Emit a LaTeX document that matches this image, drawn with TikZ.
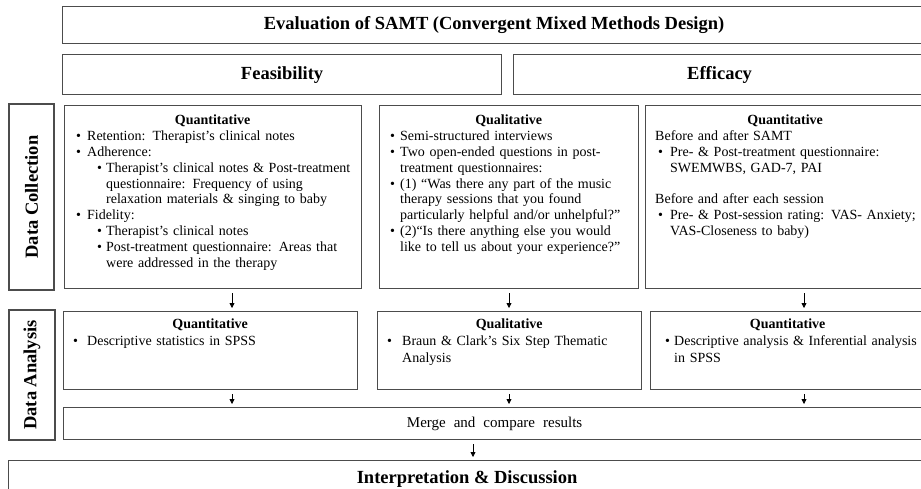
\documentclass[tikz,border=0pt]{standalone}
\usepackage{fontspec}
\setmainfont{Liberation Serif}
\usetikzlibrary{arrows.meta}
% bullet line: indent, bullet box width, text
\newcommand\bitem[3]{\par\noindent\hangindent=\dimexpr#1+#2\relax\hangafter=1\hspace*{#1}\makebox[#2][l]{\textbullet}#3\par}
\newcommand\hdr[1]{{\centering\bfseries #1\par}}
\newcommand\widesp{\spaceskip=8pt\relax}

\begin{document}
\begin{tikzpicture}[x=1pt,y=-1pt,
 box/.style={draw=black!70,line width=1.2pt,anchor=north west,inner sep=0pt},
 hd/.style={box,font=\fontsize{18.5}{22}\selectfont\bfseries},
 side/.style={draw=black!70,line width=1.2pt,rotate=90,inner sep=0pt,font=\fontsize{18.5}{22}\selectfont\bfseries},
 txt/.style={anchor=north west,align=left,inner xsep=6pt,inner ysep=10pt,font=\fontsize{14}{15.8}\selectfont},
 arr/.style={-{Triangle[length=5pt,width=5pt]},line width=0.8pt,shorten <=4pt,shorten >=3pt}]
\useasboundingbox (0,0) rectangle (921,488);
\clip (0,0) rectangle (921,488);
\fill[white] (0,0) rectangle (921,488);
% top headings
\node[hd,minimum width=863pt,minimum height=37pt] (title) at (62,6) {Evaluation of SAMT (Convergent Mixed Methods Design)};
\node[hd,minimum width=439pt,minimum height=40pt] (feas) at (62,54) {Feasibility};
\node[hd,minimum width=412pt,minimum height=40pt] (effi) at (513,54) {Efficacy};
% data collection row
\node[side,minimum width=186pt,minimum height=45pt] (dcol) at (31.5,197) {Data Collection};
\node[box,minimum width=297pt,minimum height=183pt] (fq) at (64,105) {};
\node[box,minimum width=259pt,minimum height=183pt] (qc) at (379,105) {};
\node[box,minimum width=280pt,minimum height=183pt] (ec) at (645,105) {};
\node[txt,text width=285pt] (fqt) at (fq.north west) {\hdr{Quantitative}
 \bitem{6pt}{11pt}{Retention: Therapist’s clinical notes}
 \bitem{6pt}{11pt}{Adherence:}
 \bitem{27pt}{9pt}{Therapist’s clinical notes \& Post-treatment\newline questionnaire: Frequency of using\newline relaxation materials \& singing to baby}
 \bitem{6pt}{11pt}{Fidelity:}
 \bitem{27pt}{9pt}{Therapist’s clinical notes}
 \bitem{27pt}{9pt}{Post-treatment questionnaire: Areas that\newline were addressed in the therapy}};
\node[txt,text width=247pt] (qct) at (qc.north west) {\hdr{Qualitative}
 \bitem{5pt}{10pt}{Semi-structured interviews}
 \bitem{5pt}{10pt}{Two open-ended questions in post-\newline treatment questionnaires:}
 \bitem{5pt}{10pt}{(1) “Was there any part of the music\newline therapy sessions that you found\newline particularly helpful and/or unhelpful?”}
 \bitem{5pt}{10pt}{(2)“Is there anything else you would\newline like to tell us about your experience?”}};
\node[txt,text width=268pt] (ect) at (ec.north west) {\hdr{Quantitative}
 \par\noindent\hspace*{4pt}Before and after SAMT
 \bitem{7pt}{12pt}{Pre- \& Post-treatment questionnaire:\newline SWEMWBS, GAD-7, PAI}
 \par\vskip 15.8pt\noindent\hspace*{4pt}Before and after each session
 \bitem{7pt}{12pt}{Pre- \& Post-session rating: VAS- Anxiety;\newline VAS-Closeness to baby)}};
% data analysis row
\node[side,minimum width=130pt,minimum height=46pt] (dana) at (32,375) {Data Analysis};
\node[box,minimum width=294pt,minimum height=78pt] (fa) at (63,311) {};
\node[box,minimum width=264pt,minimum height=78pt] (qa) at (377,311) {};
\node[box,minimum width=275pt,minimum height=78pt] (ea) at (650,311) {};
\node[txt,text width=282pt,inner ysep=8pt,font=\fontsize{14}{17}\selectfont] (fat) at (fa.north west) {\hdr{Quantitative}
 \bitem{4pt}{14pt}{Descriptive statistics in SPSS}};
\node[txt,text width=252pt,inner ysep=8pt,font=\fontsize{14}{17}\selectfont] (qat) at (qa.north west) {\hdr{Qualitative}
 \bitem{4pt}{15pt}{Braun \& Clark’s Six Step Thematic\newline Analysis}};
\node[txt,text width=263pt,inner ysep=8pt,font=\fontsize{14}{17}\selectfont] (eat) at (ea.north west) {\hdr{Quantitative}
 \bitem{9pt}{9pt}{Descriptive analysis \& Inferential analysis\newline in SPSS}};
% merge and interpretation
\node[box,minimum width=862pt,minimum height=32pt,font=\fontsize{15}{17}\selectfont\widesp] (merge) at (63,407) {Merge and compare results};
\node[hd,minimum width=917pt,minimum height=36pt] (interp) at (8,460) {Interpretation \& Discussion};
% arrows
\coordinate (c1) at (232,0);
\coordinate (c2) at (509,0);
\coordinate (c3) at (804,0);
\coordinate (c4) at (473,0);
\draw[arr] (fq.south -| c1) -- (fa.north -| c1);
\draw[arr] (qc.south -| c2) -- (qa.north -| c2);
\draw[arr] (ec.south -| c3) -- (ea.north -| c3);
\draw[arr] (fa.south -| c1) -- (merge.north -| c1);
\draw[arr] (qa.south -| c2) -- (merge.north -| c2);
\draw[arr] (ea.south -| c3) -- (merge.north -| c3);
\draw[arr] (merge.south -| c4) -- (interp.north -| c4);
\end{tikzpicture}
\end{document}
